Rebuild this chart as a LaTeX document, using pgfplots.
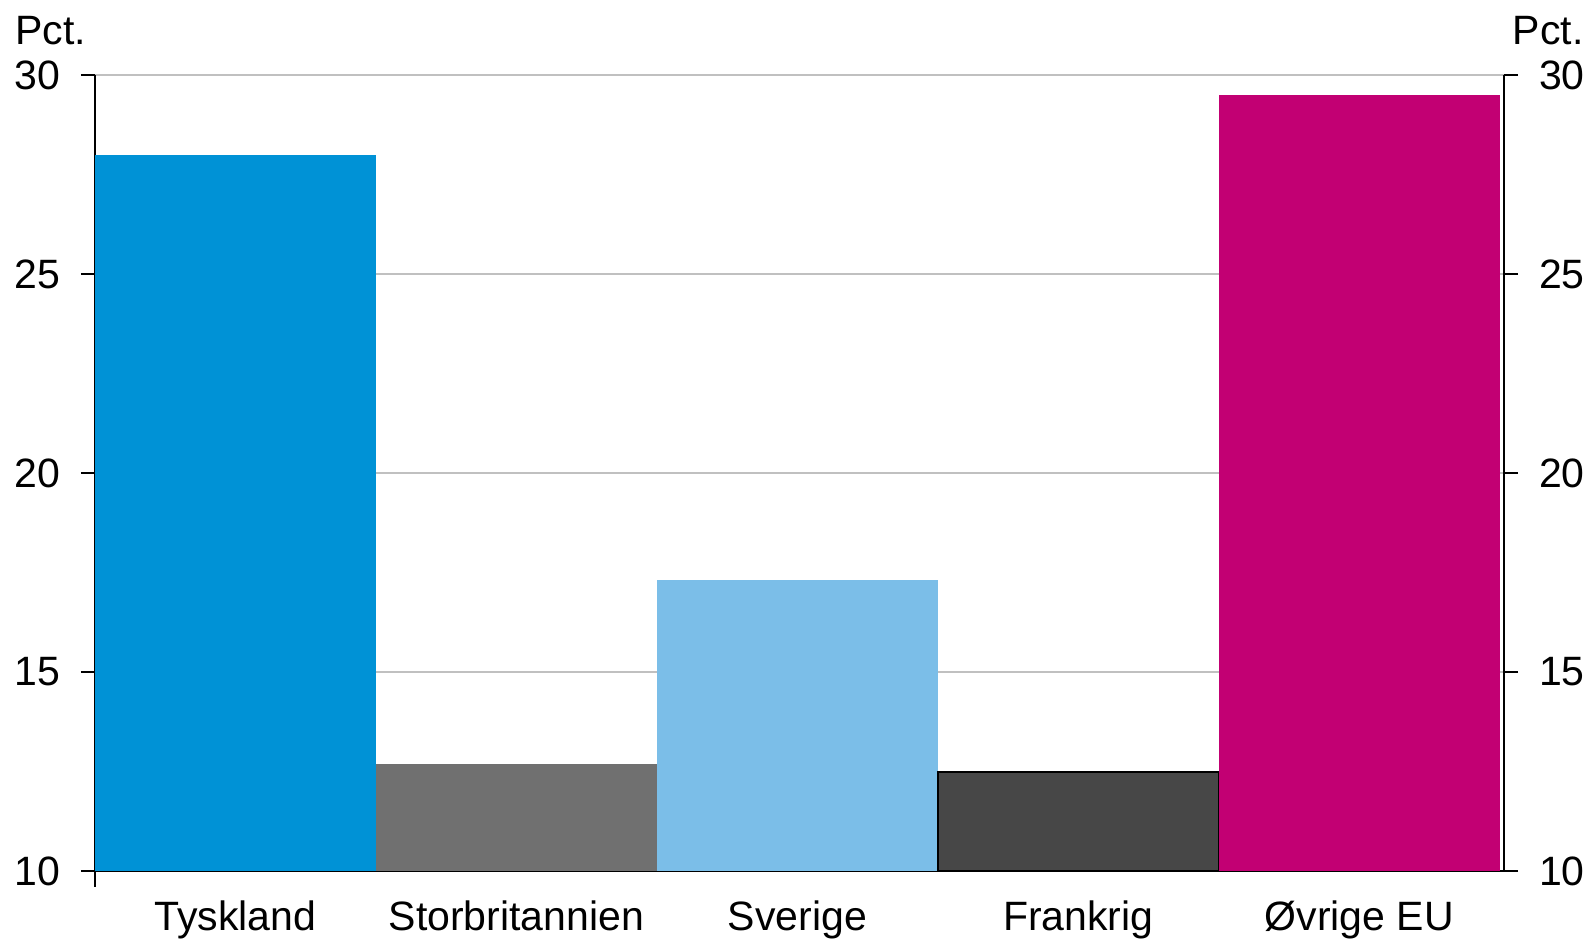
\documentclass[border=0pt]{standalone}
\usepackage{fontspec}
\setmainfont{Liberation Sans}
\usepackage{pgfplots}
\pgfplotsset{compat=1.18}
\definecolor{cTy}{RGB}{0,146,214}
\definecolor{cSb}{RGB}{112,112,112}
\definecolor{cSv}{RGB}{123,190,232}
\definecolor{cFr}{RGB}{71,71,71}
\definecolor{cEU}{RGB}{194,0,115}
\definecolor{cGrid}{RGB}{192,192,192}
\begin{document}
\fontsize{20.5}{24}\selectfont
\begin{tikzpicture}
\path[use as bounding box] (-47.5pt,-33.5pt) rectangle (747.5pt,435.5pt);
\pgfplotsset{
  common/.style={
    at={(0,0)}, anchor=south west, scale only axis,
    width=704.5pt, height=398pt,
    xmin=-0.5, xmax=4.515, ymin=10, ymax=30,
    ytick={10,15,20,25,30},
    tick align=outside, major tick length=7pt,
    tick style={black, line width=1pt},
    axis line style={black, line width=1pt},
    /pgf/number format/assume math mode=true,
    ticklabel style={font=\fontsize{20.5}{24}\selectfont},
  }
}
\begin{axis}[common,
  axis x line*=bottom, axis y line*=left,
  ymajorgrids, grid style={line width=1pt, cGrid},
  xtick={0,1,2,3,4},
  xticklabels={Tyskland,Storbritannien,Sverige,Frankrig,Øvrige EU},
  xtick style={draw=none},
  yticklabel style={xshift=-3.5pt},
  xticklabel style={yshift=-1pt},
  ybar, bar width=1, bar shift=0pt,
  clip=true,
]
\addplot[fill=cTy, draw=none] coordinates {(0,28.0)};
\addplot[fill=cSb, draw=none] coordinates {(1,12.7)};
\addplot[fill=cSv, draw=none] coordinates {(2,17.3)};
\addplot[fill=cFr, draw=black, line width=1pt] coordinates {(3,12.5)};
\addplot[fill=cEU, draw=none] coordinates {(4,29.5)};
\end{axis}
\begin{axis}[common,
  axis x line=none, axis y line*=right,
  yticklabel style={xshift=3.5pt},
  clip=false,
]
\addplot[draw=none] coordinates {(0,10)};
\draw[black, line width=1pt] (rel axis cs:0,0) -- ([yshift=-8pt]rel axis cs:0,0);
\node[anchor=base west, inner sep=0pt] at ([xshift=-40pt,yshift=15pt]rel axis cs:0,1) {Pct.};
\node[anchor=base east, inner sep=0pt] at ([xshift=40pt,yshift=15pt]rel axis cs:1,1) {Pct.};
\end{axis}
\end{tikzpicture}
\end{document}
